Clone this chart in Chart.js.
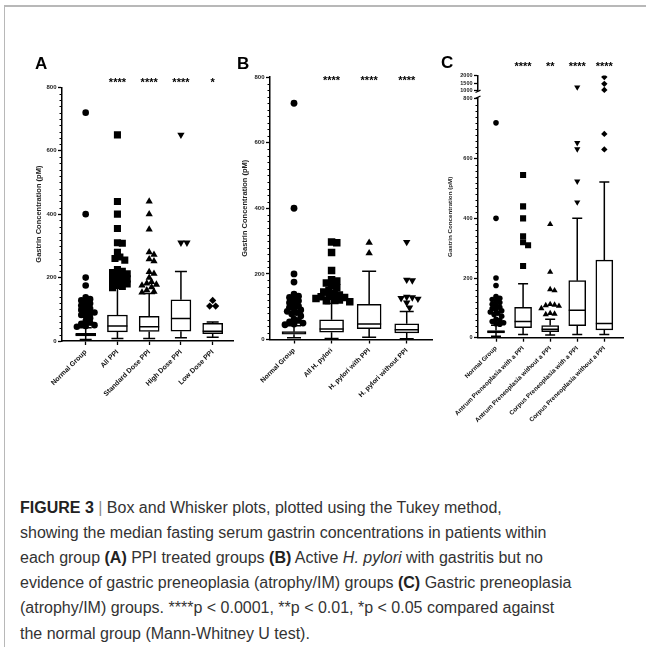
<!DOCTYPE html>
<html><head><meta charset="utf-8">
<script src="https://cdn.jsdelivr.net/npm/chart.js"></script>
<style>
html,body{margin:0;padding:0;background:#fff}
body{width:646px;height:647px;position:relative;overflow:hidden;font-family:'Liberation Sans',Arial,Helvetica,sans-serif}
#ft{position:absolute;left:4px;top:5px;width:642px;height:1.5px;background:#b8b8b8}
#fl{position:absolute;left:3.5px;top:5px;width:1.5px;height:642px;background:#b8b8b8}
canvas{position:absolute}
.pl{position:absolute;font-weight:bold;font-size:17px;line-height:17px;color:#000}
#cap{position:absolute;left:20px;top:494.5px;font-size:16px;line-height:25.2px;color:#333;white-space:nowrap}
#cap b{color:#222}
.sep{color:#888}
</style></head><body>
<div id="ft"></div><div id="fl"></div>
<canvas id="cA" width="232" height="430" style="left:8px;top:40px"></canvas>
<canvas id="cB" width="222" height="430" style="left:218px;top:40px"></canvas>
<canvas id="cC" width="221" height="430" style="left:425px;top:40px"></canvas>
<div class="pl" style="left:35px;top:55px">A</div>
<div class="pl" style="left:237px;top:55px">B</div>
<div class="pl" style="left:441px;top:54px">C</div>
<div id="cap">
<div><b>FIGURE 3</b> <span class="sep">|</span> Box and Whisker plots, plotted using the Tukey method,</div>
<div>showing the median fasting serum gastrin concentrations in patients within</div>
<div>each group <b>(A)</b> PPI treated groups <b>(B)</b> Active <i>H. pylori</i> with gastritis but no</div>
<div>evidence of gastric preneoplasia (atrophy/IM) groups <b>(C)</b> Gastric preneoplasia</div>
<div>(atrophy/IM) groups. ****p &lt; 0.0001, **p &lt; 0.01, *p &lt; 0.05 compared against</div>
<div>the normal group (Mann-Whitney U test).</div>
</div>
<script>
// ---------- DATA ----------
const yTicksMain = [0, 200, 400, 600, 800];
const yTicksTopC = [1000, 1500, 2000];

// Panel A: PPI treated groups
const catsA  = ['Normal Group', 'All PPI', 'Standard Dose PPI', 'High Dose PPI', 'Low Dose PPI'];
const lowA   = [5, 8, 8, 10, 12];
const q1A    = [16, 29, 30, 31, 23];
const medA   = [20, 47, 45, 71, 31];
const q3A    = [24, 82, 78, 130, 56];
const highA  = [42, 166, 150, 219, 60];
const outNormal  = [720, 400, 200, 175, 138, 132, 128, 122, 118, 112, 108, 102, 98, 94, 90, 86, 82, 78, 72, 62, 58, 54, 50, 47, 45];
const outAllPPI  = [650, 440, 400, 355, 310, 308, 280, 265, 260, 255, 225, 220, 216, 212, 208, 204, 200, 196, 192, 188, 184, 180, 176, 172, 168];
const outStdPPI  = [440, 400, 352, 280, 272, 258, 252, 218, 212, 200, 186, 182, 178, 175, 170, 160, 156, 153];
const outHighPPI = [650, 310, 310];
const outLowPPI  = [128, 110, 110];
const sigA = ['', '****', '****', '****', '*'];

// Panel B: active H. pylori
const catsB  = ['Normal Group', 'All H. pylori', 'H. pylori with PPI', 'H. pylori without PPI'];
const lowB   = [5, 3, 7, 2];
const q1B    = [16, 22, 33, 20];
const medB   = [20, 32, 47, 30];
const q3B    = [24, 60, 107, 48];
const highB  = [42, 110, 208, 85];
const outHpAll   = [297, 295, 265, 210, 182, 178, 172, 165, 158, 150, 145, 140, 136, 132, 130, 128, 125, 122, 120, 118, 115];
const outHpPPI   = [295, 263];
const outHpNoPPI = [297, 182, 180, 130, 128, 126, 124, 112, 97];
const sigB = ['', '****', '****', '****'];

// Panel C: gastric preneoplasia
const catsC  = ['Normal Group', 'Antrum Preneoplasia with a PPI', 'Antrum Preneoplasia without a PPI', 'Corpus Preneoplasia with a PPI', 'Corpus Preneoplasia without a PPI'];
const lowC   = [5, 11, 9, 11, 11];
const q1C    = [16, 34, 20, 40, 26];
const medC   = [20, 54, 28, 92, 48];
const q3C    = [24, 102, 41, 191, 260];
const highC  = [42, 181, 62, 400, 522];
const outAntPPI   = [545, 440, 400, 340, 320, 310, 240];
const outAntNoPPI = [380, 220, 162, 158, 112, 110, 108, 106, 98, 82, 80, 78];
const outCorPPI   = [1230, 653, 632, 524, 454];
const outCorNoPPI = [1900, 1450, 1050, 683, 631];
const sigC = ['', '****', '**', '****', '****'];

// ---------- RENDERING ----------
Chart.defaults.font.family = "'Liberation Sans', Arial, Helvetica, sans-serif";
Chart.defaults.animation = false;
const FONT = "'Liberation Sans', Arial, Helvetica, sans-serif";

// deterministic beeswarm layout (pixel based) for outlier points
function swarm(vals, ppu, ppc, dist) {
  const placed = [], res = new Array(vals.length);
  const order = vals.map((v, k) => ({v, k})).sort((a, b) => b.v - a.v);
  for (const it of order) {
    const y = it.v * ppu;
    let off = 0;
    for (let n = 0; n < 60; n++) {
      const cand = n === 0 ? 0 : (n % 2 ? 1 : -1) * Math.ceil(n / 2) * dist * 0.5;
      if (placed.every(p => Math.hypot(p.x - cand, p.y - y) >= dist)) { off = cand; break; }
    }
    placed.push({x: off, y});
    res[it.k] = off / ppc;
  }
  return res;
}

const PANELS = {};

const deco = {
  id: 'deco',
  afterDatasetDraw(chart, args) {
    const P = PANELS[chart.canvas.id];
    if (!P || args.index !== P.boxIndex) return;
    const ctx = chart.ctx, xs = chart.scales.x, ys = chart.scales.y;
    const meta = chart.getDatasetMeta(P.boxIndex);
    ctx.save();
    ctx.strokeStyle = '#000'; ctx.lineWidth = 1.5;
    P.cats.forEach((c, i) => {
      const x = xs.getPixelForValue(i);
      const bw = meta.data[i].width;
      const yl = ys.getPixelForValue(P.lo[i]), y1 = ys.getPixelForValue(P.q1[i]),
            ym = ys.getPixelForValue(P.med[i]), y3 = ys.getPixelForValue(P.q3[i]),
            yh = ys.getPixelForValue(P.hi[i]);
      const c2 = P.capPx / 2;
      ctx.beginPath();
      ctx.moveTo(x, y1); ctx.lineTo(x, yl);
      ctx.moveTo(x - c2, yl); ctx.lineTo(x + c2, yl);
      ctx.moveTo(x, y3); ctx.lineTo(x, yh);
      ctx.moveTo(x - c2, yh); ctx.lineTo(x + c2, yh);
      ctx.moveTo(x - bw / 2, ym); ctx.lineTo(x + bw / 2, ym);
      ctx.stroke();
    });
    ctx.restore();
  },
  afterDraw(chart) {
    const P = PANELS[chart.canvas.id];
    if (!P) return;
    const ctx = chart.ctx, xs = chart.scales.x, ys = chart.scales.y, ca = chart.chartArea;
    const ax = ca.left;
    ctx.save();
    ctx.strokeStyle = '#000'; ctx.lineWidth = 1;
    ctx.beginPath();
    for (let v = 20; v <= 800; v += 20) {
      if (yTicksMain.includes(v)) continue;
      const py = Math.round(ys.getPixelForValue(v)) + 0.5;
      ctx.moveTo(ax - 2.5, py); ctx.lineTo(ax, py);
    }
    ctx.stroke();
    ctx.fillStyle = '#000';
    ctx.font = 'bold 11px ' + FONT;
    ctx.textAlign = 'center'; ctx.textBaseline = 'alphabetic';
    P.sig.forEach((s, i) => { if (s) ctx.fillText(s, xs.getPixelForValue(i), ca.top + P.sigDy + 6.4); });
    const yt = chart.scales.yTop;
    if (yt) {
      const yA = yt.getPixelForValue(960), yB = ys.getPixelForValue(806);
      ctx.fillStyle = '#fff';
      ctx.fillRect(ax - 3, yA, 6, yB - yA);
      ctx.lineWidth = 1.2;
      ctx.beginPath();
      ctx.moveTo(ax - 2.5, yA + 1.2); ctx.lineTo(ax + 2.5, yA - 1.2);
      ctx.moveTo(ax - 2.5, yB + 1.2); ctx.lineTo(ax + 2.5, yB - 1.2);
      ctx.stroke();
    }
    ctx.restore();
  }
};

function build(P) {
  PANELS[P.id] = P;
  const ds = [];
  P.outs.forEach((vals, i) => {
    const st = P.styles[i];
    const lowV = P.topMin ? vals.filter(v => v < P.topMin) : vals;
    const highV = P.topMin ? vals.filter(v => v >= P.topMin) : [];
    const mk = (arr, ppu, axis) => {
      const offs = swarm(arr, ppu, P.ppc, st.dist);
      ds.push({
        type: 'scatter', yAxisID: axis, order: 1,
        data: arr.map((v, k) => ({x: i + offs[k], y: v})),
        pointStyle: st.style, rotation: st.rot || 0, pointRadius: st.r, pointHoverRadius: st.r,
        pointBackgroundColor: '#000', pointBorderWidth: 0, showLine: false
      });
    };
    if (lowV.length) mk(lowV, P.ppu, 'y');
    if (highV.length) mk(highV, P.ppuTop, 'yTop');
  });
  P.boxIndex = ds.length;
  ds.push({
    type: 'bar', yAxisID: 'y', order: 2,
    data: P.cats.map((c, i) => ({x: i, y: [P.q1[i], P.q3[i]]})),
    backgroundColor: '#fff', borderColor: '#000', borderWidth: 1.5, borderSkipped: false,
    barThickness: P.barPx
  });

  const tickFmt = v => String(v);
  const scales = {
    x: {
      type: 'linear', min: P.xmin, max: P.xmax, offset: false,
      afterBuildTicks: s => { s.ticks = P.cats.map((c, i) => ({value: i})); },
      afterFit: s => { s.height = P.xH; },
      ticks: {autoSkip: false, maxRotation: 45, minRotation: 45, padding: P.xPad, color: '#111',
              font: {size: P.xFont, weight: 'bold'}, callback: v => P.cats[Math.round(v)]},
      grid: {display: true, drawOnChartArea: false, drawTicks: true, tickLength: 4, tickColor: '#000', tickWidth: 1.3, offset: false},
      border: {display: true, color: '#000', width: 1.5}
    },
    y: {
      type: 'linear', position: 'left', min: 0, max: P.ymax,
      afterBuildTicks: s => { s.ticks = yTicksMain.map(v => ({value: v})); },
      afterFit: s => { s.width = P.yW; },
      ticks: {autoSkip: false, padding: 1.5, color: '#222', font: {size: P.yFont, weight: 'bold'}, callback: tickFmt},
      grid: {display: true, drawOnChartArea: false, drawTicks: true, tickLength: 4, tickColor: '#000', tickWidth: 1.3},
      border: {display: true, color: '#000', width: 1.5},
      title: {display: true, text: 'Gastrin Concentration (pM)', color: '#222',
              font: {size: P.titleFont, weight: 'bold'}, padding: {top: P.titlePad, bottom: 0}}
    }
  };
  if (P.topMin) {
    scales.y.stack = 'left'; scales.y.stackWeight = P.wBottom; scales.y.weight = 0;
    scales.yTop = {
      type: 'linear', position: 'left', min: P.topAxisMin, max: 2000,
      stack: 'left', stackWeight: P.wTop, weight: 1,
      afterBuildTicks: s => { s.ticks = yTicksTopC.map(v => ({value: v})); },
      afterFit: s => { s.width = P.yW; },
      ticks: {autoSkip: false, padding: 1.5, color: '#222', font: {size: P.yFont, weight: 'bold'}, callback: tickFmt},
      grid: {display: true, drawOnChartArea: false, drawTicks: true, tickLength: 4, tickColor: '#000', tickWidth: 1.3},
      border: {display: true, color: '#000', width: 1.5}
    };
  }

  new Chart(document.getElementById(P.id), {
    type: 'scatter',
    data: {datasets: ds},
    options: {
      responsive: false, animation: false, devicePixelRatio: 1,
      layout: {padding: {top: P.padTop, right: P.padRight, bottom: 0, left: 0}},
      plugins: {legend: {display: false}, tooltip: {enabled: false}},
      scales
    },
    plugins: [deco]
  });
}

build({
  id: 'cA', cats: catsA, lo: lowA, q1: q1A, med: medA, q3: q3A, hi: highA,
  outs: [outNormal, outAllPPI, outStdPPI, outHighPPI, outLowPPI], sig: sigA,
  styles: [{style: 'circle', r: 3.3, dist: 4.4}, {style: 'rect', r: 5, dist: 4.9}, {style: 'triangle', r: 4.2, dist: 4.8},
           {style: 'triangle', rot: 180, r: 4.2, dist: 6}, {style: 'rectRot', r: 3.6, dist: 6}],
  xmin: -0.746, xmax: 4.64, ymax: 800, ppu: 0.3175, ppc: 31.75,
  padTop: 47.3, padRight: 7, yW: 54, xH: 129, barPx: 20, capPx: 12,
  xFont: 7, xPad: 3, yFont: 6, titleFont: 7.5, titlePad: 26.5, sigDy: -8
});
build({
  id: 'cB', cats: catsB, lo: lowB, q1: q1B, med: medB, q3: q3B, hi: highB,
  outs: [outNormal, outHpAll, outHpPPI, outHpNoPPI], sig: sigB,
  styles: [{style: 'circle', r: 3.4, dist: 4.5}, {style: 'rect', r: 5.3, dist: 5.2}, {style: 'triangle', r: 4.3, dist: 6},
           {style: 'triangle', rot: 180, r: 4.3, dist: 5.6}],
  xmin: -0.639, xmax: 3.673, ymax: 800, ppu: 0.328, ppc: 37.57,
  padTop: 37, padRight: 8, yW: 52, xH: 130.5, barPx: 24, capPx: 14,
  xFont: 6.8, xPad: 3, yFont: 6, titleFont: 7.5, titlePad: 22.5, sigDy: 0.7
});
build({
  id: 'cC', cats: catsC, lo: lowC, q1: q1C, med: medC, q3: q3C, hi: highC,
  outs: [outNormal, outAntPPI, outAntNoPPI, outCorPPI, outCorNoPPI], sig: sigC,
  styles: [{style: 'circle', r: 2.8, dist: 3.8}, {style: 'rect', r: 4.3, dist: 5}, {style: 'triangle', r: 3.6, dist: 4.4},
           {style: 'triangle', rot: 180, r: 3.6, dist: 5}, {style: 'rectRot', r: 3.2, dist: 5}],
  xmin: -0.665, xmax: 4.69, ymax: 810, ppu: 0.2985, ppc: 27.08,
  topMin: 900, topAxisMin: 650, ppuTop: 0.0152, wBottom: 241.8, wTop: 20.5,
  padTop: 35.5, padRight: 23, yW: 53, xH: 132.3, barPx: 17, capPx: 10,
  xFont: 6.3, xPad: 3, yFont: 5.5, titleFont: 6.2, titlePad: 21.3, sigDy: -11.5
});
</script>
</body></html>
